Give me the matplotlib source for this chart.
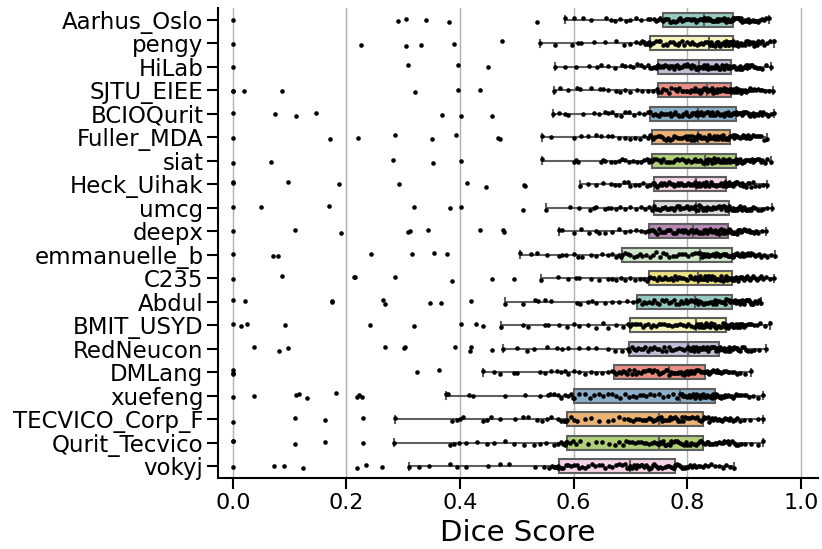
import numpy as np
import pandas as pd
import matplotlib
matplotlib.use("Agg")
import matplotlib.pyplot as plt
import seaborn as sns

teams = ["Aarhus_Oslo", "pengy", "HiLab", "SJTU_EIEE", "BCIOQurit", "Fuller_MDA",
         "siat", "Heck_Uihak", "umcg", "deepx", "emmanuelle_b", "C235", "Abdul",
         "BMIT_USYD", "RedNeucon", "DMLang", "xuefeng", "TECVICO_Corp_F",
         "Qurit_Tecvico", "vokyj"]

aarhus_oslo = [0.0, 0.29, 0.305, 0.34, 0.38, 0.535, 0.585, 0.60, 0.617, 0.631, 0.657, 0.665, 0.672, 0.681, 0.692, 0.70, 0.71, 0.718, 0.73, 0.735, 0.742, 0.745, 0.749, 0.752, 0.755,
               0.757, 0.76, 0.763, 0.766, 0.77, 0.772, 0.775, 0.779, 0.781, 0.785, 0.788, 0.79, 0.794, 0.797, 0.80, 0.803, 0.806, 0.808, 0.811, 0.814, 0.816, 0.819, 0.822, 0.825, 0.827,
               0.829, 0.831, 0.833, 0.836, 0.838, 0.84, 0.843, 0.845, 0.847, 0.85, 0.852, 0.854, 0.856, 0.858, 0.861, 0.863, 0.865, 0.867, 0.869, 0.871, 0.873, 0.875, 0.877, 0.878, 0.88,
               0.881, 0.883, 0.885, 0.887, 0.889, 0.891, 0.893, 0.895, 0.897, 0.899, 0.901, 0.903, 0.906, 0.908, 0.91, 0.912, 0.915, 0.917, 0.92, 0.922, 0.925, 0.928, 0.931, 0.935, 0.939, 0.944]
pengy = [0.0, 0.226, 0.305, 0.331, 0.389, 0.473, 0.541, 0.568, 0.597, 0.608, 0.613, 0.636, 0.655, 0.675, 0.688, 0.70, 0.71, 0.716, 0.72, 0.724, 0.726, 0.729, 0.73, 0.732, 0.734,
         0.735, 0.74, 0.745, 0.75, 0.752, 0.758, 0.762, 0.765, 0.77, 0.775, 0.779, 0.783, 0.786, 0.79, 0.795, 0.80, 0.804, 0.808, 0.812, 0.817, 0.82, 0.824, 0.828, 0.832, 0.835,
         0.838, 0.84, 0.842, 0.844, 0.846, 0.848, 0.85, 0.852, 0.854, 0.856, 0.858, 0.86, 0.862, 0.864, 0.866, 0.867, 0.869, 0.871, 0.872, 0.874, 0.875, 0.877, 0.878, 0.879, 0.88,
         0.881, 0.884, 0.886, 0.888, 0.89, 0.893, 0.895, 0.897, 0.899, 0.901, 0.904, 0.906, 0.908, 0.911, 0.913, 0.915, 0.918, 0.92, 0.922, 0.925, 0.928, 0.931, 0.935, 0.94, 0.946, 0.952]
hilab = [0.0, 0.309, 0.397, 0.45, 0.567, 0.585, 0.604, 0.627, 0.641, 0.648, 0.66, 0.672, 0.685, 0.69, 0.70, 0.705, 0.712, 0.718, 0.724, 0.73, 0.734, 0.738, 0.742, 0.745, 0.747,
         0.749, 0.752, 0.755, 0.758, 0.761, 0.764, 0.767, 0.77, 0.773, 0.776, 0.779, 0.782, 0.785, 0.788, 0.791, 0.794, 0.797, 0.80, 0.803, 0.806, 0.809, 0.812, 0.815, 0.817, 0.819,
         0.821, 0.823, 0.826, 0.828, 0.83, 0.833, 0.835, 0.837, 0.84, 0.842, 0.844, 0.847, 0.849, 0.851, 0.854, 0.856, 0.858, 0.861, 0.863, 0.865, 0.867, 0.869, 0.871, 0.873, 0.875,
         0.877, 0.879, 0.881, 0.883, 0.885, 0.887, 0.889, 0.891, 0.893, 0.895, 0.897, 0.899, 0.901, 0.903, 0.905, 0.907, 0.909, 0.912, 0.914, 0.917, 0.92, 0.923, 0.927, 0.932, 0.939, 0.947]
sjtu_eiee = [0.0, 0.0, 0.02, 0.087, 0.321, 0.397, 0.435, 0.566, 0.576, 0.59, 0.605, 0.611, 0.63, 0.646, 0.652, 0.66, 0.675, 0.681, 0.69, 0.70, 0.712, 0.72, 0.731, 0.74, 0.746,
             0.749, 0.753, 0.757, 0.763, 0.768, 0.772, 0.778, 0.781, 0.785, 0.79, 0.793, 0.797, 0.80, 0.804, 0.807, 0.811, 0.814, 0.817, 0.82, 0.823, 0.825, 0.828, 0.83, 0.832, 0.834,
             0.835, 0.837, 0.839, 0.841, 0.843, 0.845, 0.846, 0.848, 0.85, 0.852, 0.853, 0.855, 0.857, 0.858, 0.86, 0.862, 0.863, 0.865, 0.867, 0.868, 0.87, 0.872, 0.873, 0.875, 0.876,
             0.877, 0.879, 0.881, 0.883, 0.886, 0.888, 0.89, 0.892, 0.894, 0.897, 0.899, 0.901, 0.903, 0.905, 0.908, 0.91, 0.913, 0.915, 0.918, 0.921, 0.924, 0.928, 0.932, 0.937, 0.943, 0.95]
bcioqurit = [0.0, 0.075, 0.112, 0.146, 0.368, 0.402, 0.456, 0.564, 0.575, 0.585, 0.59, 0.617, 0.636, 0.645, 0.655, 0.66, 0.668, 0.675, 0.683, 0.69, 0.698, 0.706, 0.715, 0.724, 0.731,
             0.735, 0.739, 0.743, 0.747, 0.75, 0.754, 0.758, 0.761, 0.765, 0.769, 0.772, 0.776, 0.779, 0.783, 0.786, 0.79, 0.793, 0.797, 0.80, 0.803, 0.806, 0.809, 0.812, 0.815, 0.817,
             0.819, 0.822, 0.825, 0.828, 0.831, 0.834, 0.837, 0.84, 0.843, 0.846, 0.849, 0.852, 0.855, 0.858, 0.861, 0.864, 0.867, 0.869, 0.872, 0.874, 0.877, 0.879, 0.881, 0.883, 0.885,
             0.886, 0.888, 0.89, 0.892, 0.894, 0.896, 0.898, 0.90, 0.902, 0.904, 0.906, 0.908, 0.91, 0.913, 0.915, 0.917, 0.92, 0.922, 0.925, 0.928, 0.931, 0.934, 0.938, 0.942, 0.947, 0.952]
fuller_mda = [0.0, 0.171, 0.22, 0.285, 0.35, 0.393, 0.467, 0.47, 0.545, 0.56, 0.60, 0.613, 0.625, 0.64, 0.648, 0.66, 0.667, 0.68, 0.69, 0.70, 0.708, 0.716, 0.724, 0.73, 0.734,
              0.737, 0.74, 0.744, 0.748, 0.752, 0.755, 0.759, 0.763, 0.766, 0.77, 0.773, 0.777, 0.78, 0.784, 0.787, 0.79, 0.794, 0.797, 0.80, 0.803, 0.806, 0.809, 0.812, 0.814, 0.816,
              0.818, 0.82, 0.823, 0.825, 0.828, 0.83, 0.833, 0.835, 0.838, 0.84, 0.842, 0.845, 0.847, 0.849, 0.852, 0.854, 0.856, 0.859, 0.861, 0.863, 0.866, 0.868, 0.87, 0.872, 0.874,
              0.876, 0.878, 0.88, 0.882, 0.884, 0.886, 0.888, 0.89, 0.892, 0.894, 0.896, 0.898, 0.90, 0.902, 0.904, 0.906, 0.908, 0.911, 0.913, 0.916, 0.919, 0.922, 0.926, 0.93, 0.935, 0.941]
siat = [0.0, 0.068, 0.282, 0.352, 0.402, 0.545, 0.60, 0.604, 0.608, 0.648, 0.652, 0.656, 0.665, 0.672, 0.68, 0.685, 0.69, 0.698, 0.705, 0.712, 0.718, 0.724, 0.729, 0.732, 0.735,
        0.737, 0.741, 0.745, 0.75, 0.754, 0.758, 0.762, 0.766, 0.77, 0.774, 0.778, 0.782, 0.786, 0.79, 0.794, 0.798, 0.802, 0.806, 0.81, 0.813, 0.816, 0.819, 0.822, 0.825, 0.828,
        0.831, 0.833, 0.835, 0.837, 0.84, 0.842, 0.844, 0.847, 0.849, 0.851, 0.854, 0.856, 0.858, 0.861, 0.863, 0.865, 0.868, 0.87, 0.872, 0.874, 0.876, 0.878, 0.88, 0.882, 0.884,
        0.886, 0.888, 0.89, 0.891, 0.893, 0.895, 0.897, 0.899, 0.90, 0.902, 0.904, 0.906, 0.908, 0.91, 0.912, 0.914, 0.916, 0.918, 0.92, 0.923, 0.926, 0.929, 0.932, 0.936, 0.941, 0.947]
heck_uihak = [0.0, 0.0, 0.097, 0.187, 0.293, 0.412, 0.445, 0.512, 0.514, 0.612, 0.625, 0.64, 0.652, 0.665, 0.672, 0.68, 0.688, 0.695, 0.70, 0.708, 0.715, 0.722, 0.729, 0.735, 0.739,
              0.741, 0.744, 0.747, 0.75, 0.753, 0.756, 0.759, 0.762, 0.765, 0.768, 0.771, 0.774, 0.777, 0.78, 0.783, 0.786, 0.789, 0.792, 0.795, 0.798, 0.801, 0.804, 0.807, 0.81, 0.813,
              0.815, 0.817, 0.819, 0.821, 0.823, 0.825, 0.827, 0.829, 0.831, 0.833, 0.835, 0.837, 0.839, 0.841, 0.843, 0.845, 0.848, 0.85, 0.852, 0.855, 0.857, 0.86, 0.862, 0.864, 0.866,
              0.868, 0.87, 0.872, 0.874, 0.876, 0.878, 0.88, 0.882, 0.884, 0.886, 0.888, 0.89, 0.892, 0.894, 0.896, 0.898, 0.90, 0.903, 0.906, 0.909, 0.912, 0.916, 0.92, 0.926, 0.933, 0.941]
umcg = [0.0, 0.049, 0.17, 0.319, 0.382, 0.402, 0.511, 0.552, 0.593, 0.61, 0.628, 0.635, 0.64, 0.655, 0.66, 0.665, 0.675, 0.682, 0.69, 0.70, 0.71, 0.718, 0.726, 0.733, 0.738,
        0.741, 0.745, 0.748, 0.752, 0.755, 0.757, 0.761, 0.764, 0.768, 0.77, 0.773, 0.777, 0.779, 0.782, 0.786, 0.788, 0.791, 0.795, 0.797, 0.80, 0.803, 0.806, 0.808, 0.811, 0.813,
        0.815, 0.818, 0.82, 0.823, 0.825, 0.828, 0.83, 0.833, 0.835, 0.838, 0.84, 0.843, 0.845, 0.848, 0.85, 0.853, 0.855, 0.858, 0.86, 0.862, 0.865, 0.867, 0.869, 0.871, 0.872,
        0.874, 0.876, 0.878, 0.88, 0.882, 0.884, 0.886, 0.888, 0.89, 0.892, 0.894, 0.896, 0.898, 0.90, 0.903, 0.905, 0.908, 0.91, 0.913, 0.916, 0.92, 0.924, 0.929, 0.934, 0.941, 0.949]
deepx = [0.0, 0.109, 0.19, 0.309, 0.312, 0.343, 0.435, 0.475, 0.477, 0.574, 0.58, 0.60, 0.613, 0.627, 0.64, 0.645, 0.655, 0.668, 0.68, 0.69, 0.70, 0.71, 0.718, 0.725, 0.73,
         0.733, 0.736, 0.74, 0.743, 0.747, 0.75, 0.754, 0.757, 0.76, 0.764, 0.767, 0.77, 0.774, 0.777, 0.78, 0.784, 0.787, 0.79, 0.793, 0.796, 0.799, 0.802, 0.805, 0.807, 0.809,
         0.81, 0.813, 0.815, 0.818, 0.82, 0.823, 0.825, 0.828, 0.83, 0.833, 0.835, 0.838, 0.84, 0.843, 0.845, 0.848, 0.85, 0.853, 0.855, 0.858, 0.86, 0.863, 0.865, 0.867, 0.869,
         0.871, 0.873, 0.875, 0.877, 0.879, 0.881, 0.883, 0.885, 0.887, 0.889, 0.891, 0.893, 0.895, 0.897, 0.899, 0.901, 0.903, 0.905, 0.908, 0.911, 0.914, 0.917, 0.921, 0.925, 0.931, 0.938]
emmanuelle_b = [0.0, 0.07, 0.08, 0.244, 0.315, 0.354, 0.377, 0.505, 0.525, 0.535, 0.553, 0.574, 0.58, 0.586, 0.60, 0.608, 0.615, 0.63, 0.64, 0.65, 0.66, 0.668, 0.675, 0.68, 0.683,
                0.685, 0.69, 0.695, 0.70, 0.706, 0.711, 0.716, 0.72, 0.728, 0.735, 0.74, 0.745, 0.752, 0.758, 0.763, 0.768, 0.774, 0.78, 0.785, 0.79, 0.796, 0.802, 0.808, 0.814, 0.819,
                0.823, 0.826, 0.828, 0.83, 0.832, 0.834, 0.836, 0.838, 0.84, 0.843, 0.845, 0.847, 0.849, 0.851, 0.854, 0.856, 0.858, 0.86, 0.862, 0.865, 0.867, 0.869, 0.872, 0.874, 0.876,
                0.878, 0.88, 0.882, 0.884, 0.886, 0.888, 0.89, 0.892, 0.894, 0.896, 0.898, 0.90, 0.902, 0.905, 0.907, 0.91, 0.913, 0.916, 0.919, 0.922, 0.926, 0.93, 0.935, 0.94, 0.947, 0.954]
c235 = [0.0, 0.087, 0.213, 0.215, 0.286, 0.385, 0.457, 0.495, 0.542, 0.573, 0.59, 0.604, 0.61, 0.63, 0.645, 0.66, 0.668, 0.675, 0.683, 0.69, 0.70, 0.708, 0.716, 0.724, 0.729,
        0.732, 0.735, 0.739, 0.742, 0.746, 0.75, 0.753, 0.757, 0.76, 0.764, 0.768, 0.771, 0.775, 0.778, 0.782, 0.786, 0.789, 0.793, 0.797, 0.80, 0.804, 0.807, 0.811, 0.814, 0.817,
        0.819, 0.822, 0.824, 0.827, 0.829, 0.832, 0.834, 0.837, 0.839, 0.842, 0.844, 0.847, 0.849, 0.852, 0.854, 0.857, 0.859, 0.862, 0.864, 0.866, 0.868, 0.87, 0.872, 0.874, 0.876,
        0.878, 0.88, 0.882, 0.884, 0.886, 0.888, 0.89, 0.892, 0.894, 0.896, 0.898, 0.90, 0.903, 0.905, 0.908, 0.91, 0.913, 0.916, 0.919, 0.922, 0.926, 0.93, 0.934, 0.939, 0.945, 0.952]
abdul = [0.0, 0.022, 0.174, 0.175, 0.264, 0.268, 0.347, 0.366, 0.419, 0.48, 0.51, 0.532, 0.538, 0.55, 0.56, 0.605, 0.612, 0.626, 0.632, 0.64, 0.655, 0.668, 0.68, 0.693, 0.705,
         0.711, 0.715, 0.72, 0.724, 0.728, 0.733, 0.737, 0.742, 0.746, 0.75, 0.755, 0.759, 0.763, 0.768, 0.772, 0.776, 0.78, 0.785, 0.789, 0.793, 0.797, 0.80, 0.804, 0.807, 0.81,
         0.813, 0.816, 0.819, 0.821, 0.824, 0.827, 0.829, 0.832, 0.835, 0.837, 0.84, 0.843, 0.845, 0.848, 0.851, 0.853, 0.856, 0.859, 0.861, 0.864, 0.866, 0.869, 0.871, 0.874, 0.876,
         0.878, 0.88, 0.882, 0.884, 0.885, 0.887, 0.889, 0.891, 0.892, 0.894, 0.896, 0.898, 0.899, 0.901, 0.903, 0.905, 0.906, 0.908, 0.91, 0.912, 0.914, 0.916, 0.919, 0.922, 0.926, 0.93]
bmit_usyd = [0.0, 0.014, 0.025, 0.092, 0.241, 0.319, 0.401, 0.428, 0.44, 0.472, 0.51, 0.52, 0.55, 0.555, 0.574, 0.588, 0.60, 0.61, 0.625, 0.64, 0.652, 0.66, 0.675, 0.686, 0.695,
             0.699, 0.703, 0.708, 0.712, 0.717, 0.722, 0.726, 0.731, 0.736, 0.74, 0.745, 0.75, 0.754, 0.759, 0.764, 0.768, 0.773, 0.778, 0.782, 0.787, 0.792, 0.797, 0.802, 0.807, 0.811,
             0.815, 0.817, 0.82, 0.822, 0.824, 0.826, 0.829, 0.831, 0.833, 0.835, 0.838, 0.84, 0.842, 0.845, 0.847, 0.849, 0.851, 0.854, 0.856, 0.858, 0.86, 0.862, 0.864, 0.866, 0.867,
             0.869, 0.871, 0.873, 0.875, 0.877, 0.879, 0.881, 0.883, 0.885, 0.887, 0.889, 0.891, 0.893, 0.895, 0.897, 0.899, 0.901, 0.904, 0.907, 0.91, 0.913, 0.917, 0.922, 0.928, 0.936, 0.946]
redneucon = [0.037, 0.081, 0.097, 0.268, 0.301, 0.303, 0.392, 0.417, 0.42, 0.457, 0.476, 0.50, 0.517, 0.53, 0.553, 0.57, 0.58, 0.59, 0.61, 0.625, 0.64, 0.66, 0.672, 0.685, 0.695,
             0.698, 0.702, 0.706, 0.71, 0.714, 0.718, 0.722, 0.726, 0.73, 0.734, 0.738, 0.742, 0.746, 0.75, 0.755, 0.759, 0.763, 0.767, 0.771, 0.775, 0.78, 0.785, 0.79, 0.795, 0.799,
             0.802, 0.804, 0.806, 0.808, 0.81, 0.812, 0.814, 0.816, 0.818, 0.82, 0.822, 0.824, 0.826, 0.828, 0.83, 0.832, 0.835, 0.837, 0.84, 0.842, 0.845, 0.847, 0.85, 0.852, 0.854,
             0.856, 0.858, 0.86, 0.862, 0.864, 0.866, 0.868, 0.87, 0.872, 0.874, 0.876, 0.878, 0.88, 0.883, 0.885, 0.888, 0.89, 0.893, 0.896, 0.899, 0.903, 0.907, 0.912, 0.918, 0.927, 0.938]
dmlang = [0.0, 0.0, 0.0, 0.325, 0.363, 0.441, 0.46, 0.47, 0.495, 0.50, 0.54, 0.55, 0.56, 0.57, 0.578, 0.585, 0.59, 0.60, 0.61, 0.62, 0.63, 0.64, 0.65, 0.66, 0.668,
          0.671, 0.675, 0.679, 0.683, 0.687, 0.69, 0.694, 0.698, 0.702, 0.706, 0.71, 0.714, 0.718, 0.722, 0.726, 0.73, 0.734, 0.738, 0.742, 0.746, 0.75, 0.754, 0.758, 0.762, 0.765,
          0.768, 0.771, 0.773, 0.776, 0.779, 0.781, 0.784, 0.786, 0.789, 0.791, 0.794, 0.796, 0.799, 0.801, 0.804, 0.806, 0.809, 0.811, 0.814, 0.816, 0.819, 0.822, 0.825, 0.828, 0.83,
          0.832, 0.834, 0.836, 0.838, 0.84, 0.842, 0.844, 0.846, 0.848, 0.85, 0.852, 0.854, 0.856, 0.858, 0.86, 0.862, 0.865, 0.868, 0.871, 0.874, 0.878, 0.882, 0.887, 0.893, 0.902, 0.913]
xuefeng = [0.0, 0.037, 0.111, 0.117, 0.131, 0.182, 0.218, 0.222, 0.228, 0.375, 0.378, 0.416, 0.422, 0.479, 0.514, 0.54, 0.555, 0.558, 0.565, 0.573, 0.578, 0.585, 0.59, 0.595, 0.598,
           0.601, 0.61, 0.62, 0.628, 0.635, 0.645, 0.652, 0.66, 0.668, 0.675, 0.682, 0.69, 0.697, 0.704, 0.71, 0.716, 0.722, 0.728, 0.735, 0.742, 0.75, 0.758, 0.766, 0.774, 0.781,
           0.787, 0.79, 0.792, 0.795, 0.797, 0.80, 0.803, 0.805, 0.808, 0.81, 0.813, 0.815, 0.818, 0.82, 0.823, 0.825, 0.828, 0.83, 0.833, 0.835, 0.838, 0.84, 0.842, 0.844, 0.846,
           0.848, 0.85, 0.852, 0.855, 0.857, 0.86, 0.862, 0.864, 0.866, 0.868, 0.87, 0.872, 0.875, 0.877, 0.88, 0.882, 0.885, 0.888, 0.891, 0.895, 0.899, 0.903, 0.908, 0.915, 0.924, 0.934]
tecvico_corp_f = [0.0, 0.109, 0.163, 0.229, 0.285, 0.385, 0.395, 0.40, 0.405, 0.44, 0.447, 0.455, 0.47, 0.497, 0.51, 0.52, 0.536, 0.544, 0.553, 0.56, 0.573, 0.578, 0.583, 0.585, 0.587,
                  0.589, 0.595, 0.60, 0.605, 0.62, 0.63, 0.645, 0.66, 0.67, 0.68, 0.688, 0.695, 0.70, 0.705, 0.71, 0.715, 0.72, 0.724, 0.728, 0.732, 0.736, 0.74, 0.743, 0.746, 0.748,
                  0.75, 0.753, 0.756, 0.758, 0.761, 0.764, 0.767, 0.77, 0.772, 0.775, 0.778, 0.781, 0.784, 0.787, 0.79, 0.793, 0.796, 0.799, 0.802, 0.805, 0.809, 0.813, 0.817, 0.821, 0.825,
                  0.828, 0.83, 0.833, 0.836, 0.838, 0.841, 0.844, 0.846, 0.849, 0.852, 0.855, 0.858, 0.861, 0.864, 0.867, 0.87, 0.873, 0.876, 0.88, 0.884, 0.888, 0.893, 0.90, 0.91, 0.925, 0.934]
qurit_tecvico = [0.0, 0.0, 0.109, 0.163, 0.229, 0.284, 0.382, 0.39, 0.398, 0.41, 0.43, 0.448, 0.46, 0.48, 0.495, 0.512, 0.53, 0.54, 0.552, 0.565, 0.572, 0.578, 0.582, 0.585, 0.587,
                 0.589, 0.594, 0.598, 0.604, 0.612, 0.625, 0.64, 0.65, 0.662, 0.672, 0.68, 0.686, 0.692, 0.698, 0.703, 0.708, 0.713, 0.718, 0.723, 0.728, 0.733, 0.738, 0.742, 0.745, 0.748,
                 0.75, 0.752, 0.755, 0.758, 0.76, 0.763, 0.766, 0.769, 0.772, 0.775, 0.778, 0.781, 0.784, 0.787, 0.79, 0.794, 0.797, 0.80, 0.804, 0.807, 0.811, 0.815, 0.819, 0.822, 0.825,
                 0.828, 0.831, 0.834, 0.836, 0.839, 0.842, 0.845, 0.848, 0.85, 0.853, 0.856, 0.859, 0.862, 0.865, 0.868, 0.871, 0.874, 0.878, 0.882, 0.886, 0.89, 0.895, 0.902, 0.912, 0.924, 0.934]
vokyj = [0.0, 0.072, 0.091, 0.123, 0.218, 0.235, 0.262, 0.311, 0.328, 0.345, 0.382, 0.394, 0.41, 0.45, 0.47, 0.486, 0.532, 0.548, 0.556, 0.562, 0.565, 0.568, 0.57, 0.572, 0.573,
         0.574, 0.578, 0.582, 0.586, 0.59, 0.595, 0.60, 0.605, 0.61, 0.615, 0.62, 0.626, 0.632, 0.638, 0.644, 0.65, 0.656, 0.662, 0.668, 0.674, 0.68, 0.685, 0.69, 0.694, 0.697,
         0.70, 0.703, 0.706, 0.709, 0.712, 0.715, 0.718, 0.721, 0.724, 0.727, 0.73, 0.733, 0.736, 0.739, 0.742, 0.745, 0.748, 0.752, 0.756, 0.76, 0.764, 0.768, 0.771, 0.774, 0.776,
         0.778, 0.78, 0.782, 0.785, 0.788, 0.79, 0.793, 0.796, 0.799, 0.802, 0.805, 0.808, 0.811, 0.815, 0.819, 0.823, 0.827, 0.832, 0.837, 0.842, 0.848, 0.855, 0.862, 0.868, 0.875, 0.882]

scores = [aarhus_oslo, pengy, hilab, sjtu_eiee, bcioqurit, fuller_mda, siat, heck_uihak,
          umcg, deepx, emmanuelle_b, c235, abdul, bmit_usyd, redneucon, dmlang, xuefeng,
          tecvico_corp_f, qurit_tecvico, vokyj]

rows = []
for team, vals in zip(teams, scores):
    for v in vals:
        rows.append((team, v))
df = pd.DataFrame(rows, columns=["team", "dice"])

np.random.seed(3)

fig = plt.figure(figsize=(8.22, 5.49), dpi=100)
ax = fig.add_axes([0.2652, 0.1293, 0.7299, 0.856])
ax.set_axisbelow(True)
ax.xaxis.grid(True, color="#b0b0b0", linewidth=1)

sns.boxplot(data=df, x="dice", y="team", order=teams, hue="team", hue_order=teams,
            palette="Set3", legend=False, width=0.6, showfliers=False,
            linewidth=1.5, ax=ax)
sns.stripplot(data=df, x="dice", y="team", order=teams, color="black", size=3.3,
              jitter=True, ax=ax)

ax.set_xlim(-0.026, 1.03)
ax.set_xticks([0.0, 0.2, 0.4, 0.6, 0.8, 1.0])
ax.set_xlabel("Dice Score", fontsize=21)
ax.set_ylabel("")
ax.tick_params(axis="y", labelsize=16.5, length=8, width=1.5, pad=2.5)
ax.tick_params(axis="x", labelsize=16, length=8, width=1.5, pad=3)
for s in ["left", "bottom"]:
    ax.spines[s].set_linewidth(1.5)
sns.despine(ax=ax)

fig.savefig("out.png", dpi=100)
